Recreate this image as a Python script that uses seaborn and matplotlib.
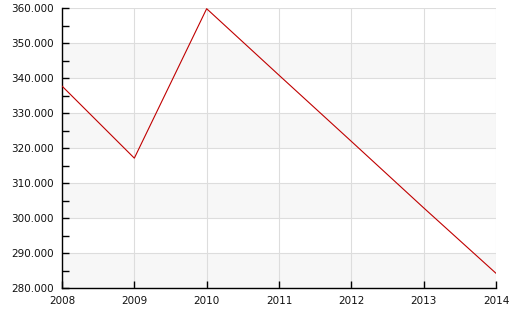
import matplotlib
matplotlib.use("Agg")
import matplotlib.pyplot as plt
import seaborn as sns
import pandas as pd
from matplotlib.ticker import MultipleLocator, FuncFormatter

years = [2008, 2009, 2010, 2011, 2012, 2013, 2014]
values = [337.7, 317.1, 359.8, 340.8, 321.9, 302.9, 284.2]

sns.set_style("white")
plt.rcParams['font.family'] = ['DejaVu Sans']

df = pd.DataFrame({"year": years, "value": values})
fig = plt.figure(figsize=(5.12, 3.28), dpi=100)
W, H = 512, 328
ax = fig.add_axes([62 / W, 1 - 288 / H, (496 - 62) / W, (288 - 8) / H])

for lo in range(280, 360, 20):
    ax.axhspan(lo, lo + 10, color="#f7f7f7", zorder=0, lw=0)

sns.lineplot(data=df, x="year", y="value", ax=ax, color="#c00000", lw=0.8, zorder=3)

ax.set_xlim(2008, 2014)
ax.set_ylim(280, 360)
ax.set_xticks(years)
ax.yaxis.set_major_locator(MultipleLocator(10))
ax.yaxis.set_minor_locator(MultipleLocator(5))
ax.yaxis.set_major_formatter(FuncFormatter(lambda v, p: f"{v:.3f}"))
ax.grid(True, which="major", color="#dddddd", lw=0.8, zorder=1)
ax.set_axisbelow(True)
ax.set_xlabel("")
ax.set_ylabel("")
for s in ["top", "right"]:
    ax.spines[s].set_visible(False)
for s in ["left", "bottom"]:
    ax.spines[s].set_color("black")
    ax.spines[s].set_linewidth(1)
ax.tick_params(axis="both", which="both", left=True, bottom=True)
ax.tick_params(axis="both", which="major", direction="in", length=5, width=1,
               color="black", labelsize=7.5, labelcolor="#111111")
ax.tick_params(axis="y", which="minor", direction="in", length=5, width=1, color="black")
ax.tick_params(axis="x", which="minor", bottom=False)
ax.tick_params(axis="x", pad=6)
ax.tick_params(axis="y", pad=6)

fig.savefig("out.png", dpi=100)
